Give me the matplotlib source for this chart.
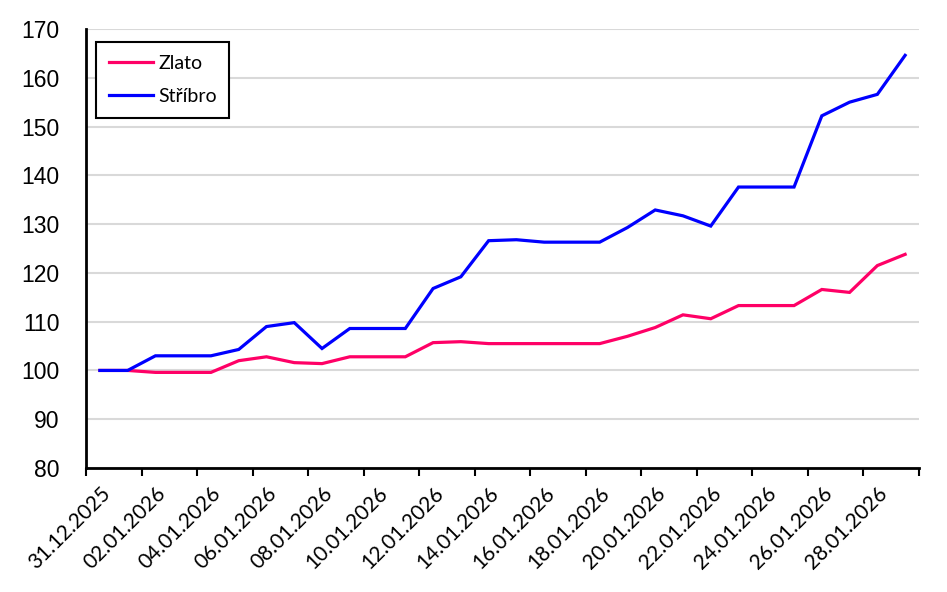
import matplotlib
matplotlib.use("Agg")
import matplotlib.pyplot as plt
import numpy as np

# Daily dates (categories), 31.12.2025 - 29.01.2026
dates = ["31.12.2025"] + ["%02d.01.2026" % d for d in range(1, 30)]

# Index values (31.12.2025 = 100)
zlato = [100.0, 100.0, 99.6, 99.6, 99.6, 102.0, 102.8, 101.6, 101.4, 102.8,
         102.8, 102.8, 105.7, 105.9, 105.5, 105.5, 105.5, 105.5, 105.5, 107.0,
         108.8, 111.4, 110.6, 113.3, 113.3, 113.3, 116.6, 116.0, 121.5, 123.8]
stribro = [100.0, 100.0, 103.0, 103.0, 103.0, 104.3, 109.0, 109.8, 104.5, 108.6,
           108.6, 108.6, 116.8, 119.2, 126.6, 126.8, 126.3, 126.3, 126.3, 129.3,
           132.9, 131.7, 129.6, 137.6, 137.6, 137.6, 152.2, 155.0, 156.6, 164.6]

y_ticks = list(range(80, 171, 10))

fig = plt.figure(figsize=(9.47, 5.92), dpi=100)
ax = fig.add_axes([86 / 947, 1 - 468 / 592, (919 - 86) / 947, (468 - 29) / 592])

x = np.arange(len(dates))
ax.plot(x, zlato, color="#FF0066", lw=2.3, label="Zlato", solid_joinstyle="miter")
ax.plot(x, stribro, color="#0000FF", lw=2.3, label="Stříbro", solid_joinstyle="miter")

# Axes limits and grid
ax.set_xlim(-0.5, len(dates) - 0.5)
ax.set_ylim(80, 170)
ax.set_yticks(y_ticks)
ax.yaxis.grid(True, color="#d9d9d9", lw=1.5)
ax.set_axisbelow(True)
ax.tick_params(axis="y", length=0, pad=19, labelsize=16.5)
for lbl in ax.get_yticklabels():
    lbl.set_fontfamily("Liberation Sans")

# Tick marks between categories, labels on every second category
ax.set_xticks(np.arange(-0.5, len(dates), 2))
ax.set_xticklabels([])
ax.tick_params(axis="x", which="major", length=6, width=1.5, direction="out")
ax.set_xticks(x[::2], minor=True)
ax.set_xticklabels(dates[::2], minor=True, rotation=45, ha="right", va="top",
                   rotation_mode="anchor", fontsize=15, fontfamily="Lato")
ax.tick_params(axis="x", which="minor", length=0, pad=11)

for side in ["top", "right"]:
    ax.spines[side].set_visible(False)
for side in ["left", "bottom"]:
    ax.spines[side].set_linewidth(2)
    ax.spines[side].set_color("black")

leg = ax.legend(loc="upper left", bbox_to_anchor=(96 / 947, 1 - 42 / 592),
                bbox_transform=fig.transFigure, borderaxespad=0, fancybox=False,
                framealpha=1, edgecolor="black", prop={"family": "Lato", "size": 14},
                handlelength=2.3, handletextpad=0.25, labelspacing=0.85, borderpad=0.65)
leg.get_frame().set_linewidth(1.5)

fig.savefig("out.png", dpi=100)
